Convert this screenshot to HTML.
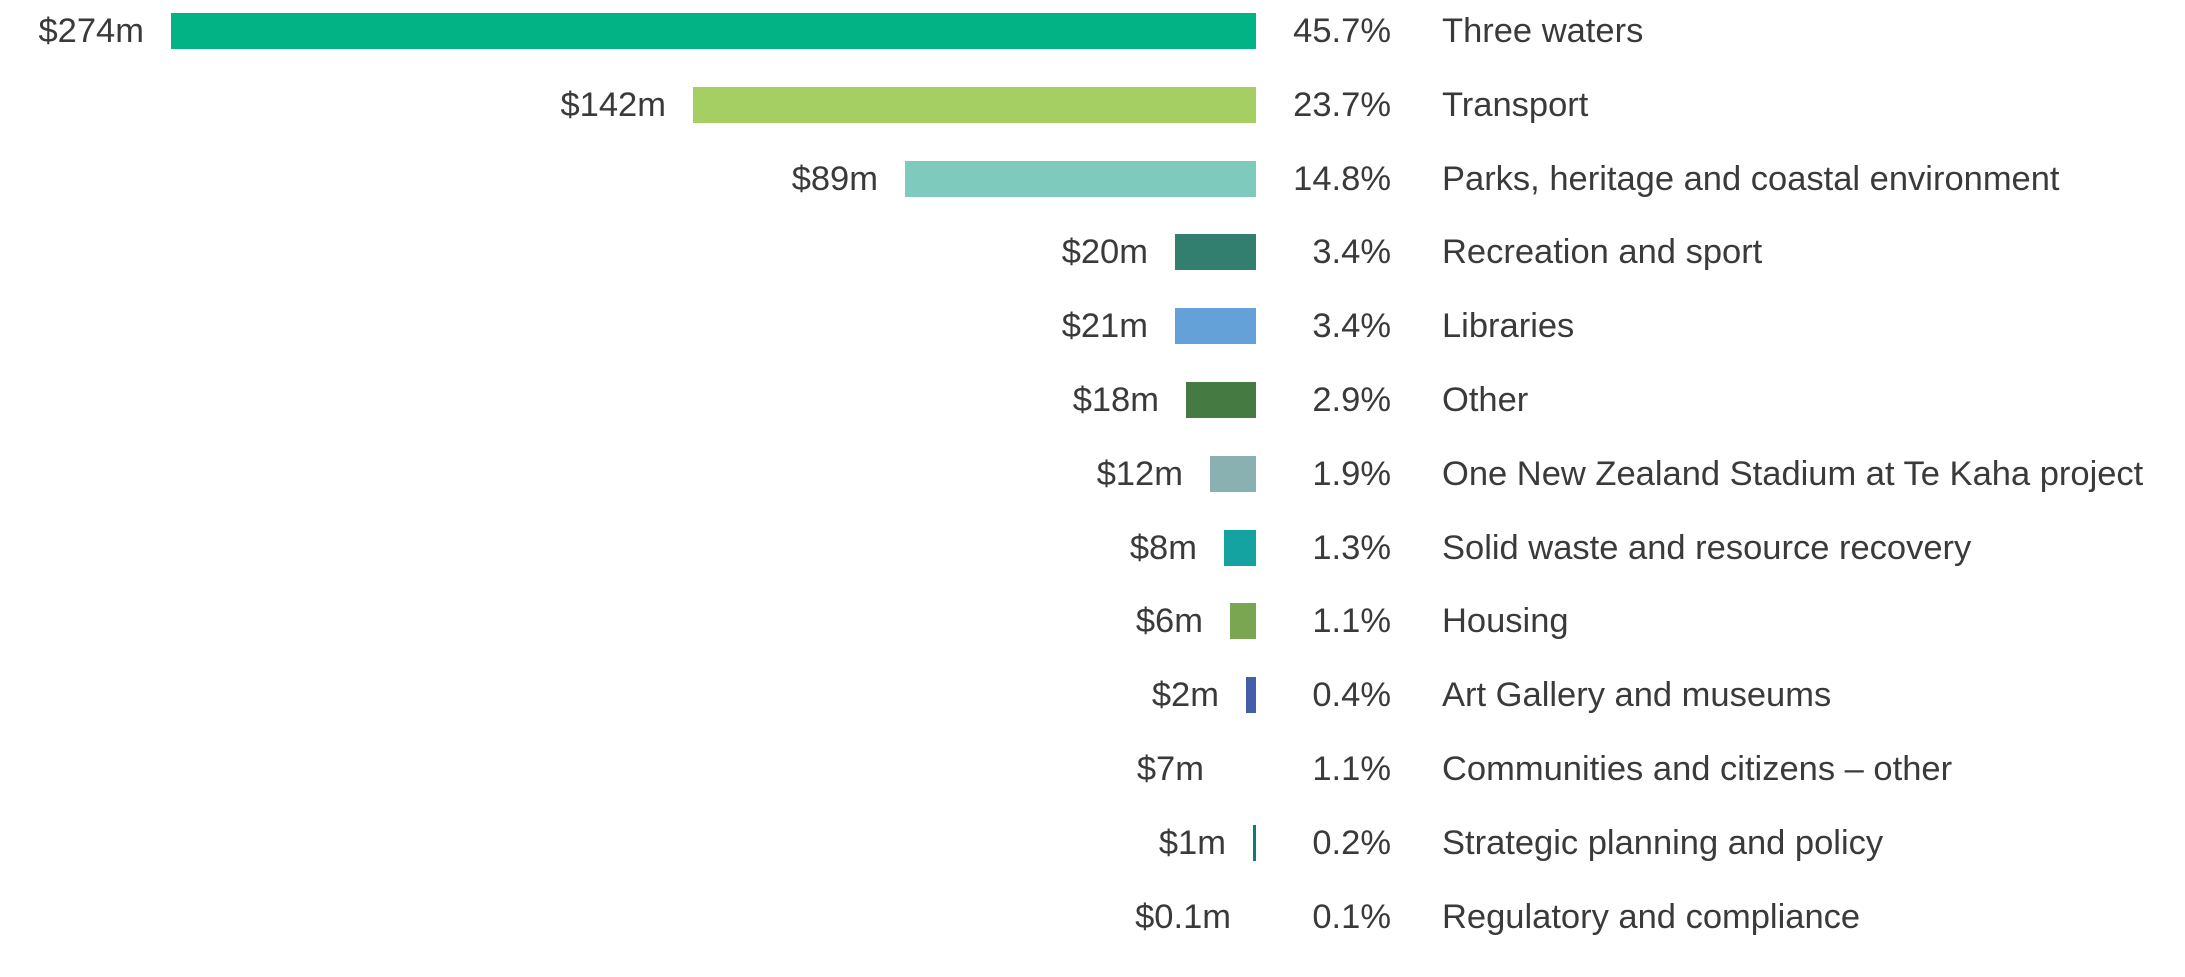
<!DOCTYPE html>
<html><head><style>
body{margin:0;background:#fff;width:2185px;height:977px;overflow:hidden;font-family:"Liberation Sans",sans-serif;color:#3a3a3a}
.bar{position:absolute;height:36px}
.t{position:absolute;font-size:34.5px;line-height:36px;white-space:nowrap}
.d,.p{text-align:right}
</style></head><body>
<div id="c"></div>
<script>
var rows=[
["$274m",171,"#02b386","45.7%","Three waters"],
["$142m",693,"#a5cf62","23.7%","Transport"],
["$89m",905,"#7ecbbd","14.8%","Parks, heritage and coastal environment"],
["$20m",1175,"#327f6f","3.4%","Recreation and sport"],
["$21m",1175,"#64a1d8","3.4%","Libraries"],
["$18m",1186,"#457b42","2.9%","Other"],
["$12m",1210,"#89b1b2","1.9%","One New Zealand Stadium at Te Kaha project"],
["$8m",1224,"#14a3a0","1.3%","Solid waste and resource recovery"],
["$6m",1230,"#7aa651","1.1%","Housing"],
["$2m",1246,"#445fa9","0.4%","Art Gallery and museums"],
["$7m",null,"","1.1%","Communities and citizens \u2013 other"],
["$1m",1253,"#0f7b78","0.2%","Strategic planning and policy"],
["$0.1m",null,"","0.1%","Regulatory and compliance"]];
var h="";
rows.forEach(function(r,i){
 var y=13+i*73.8;
 var L=r[1];
 if(L!==null){h+='<div class="bar" style="left:'+L+'px;top:'+y+'px;width:'+(1256-L)+'px;background:'+r[2]+'"></div>';}
 var end=L!==null?L-27:(i==10?1204:1231);
 h+='<div class="t d" style="right:'+(2185-end)+'px;top:'+y+'px">'+r[0]+'</div>';
 h+='<div class="t p" style="right:'+(2185-1391)+'px;top:'+y+'px">'+r[3]+'</div>';
 h+='<div class="t" style="left:1442px;top:'+y+'px">'+r[4]+'</div>';
});
document.getElementById("c").innerHTML=h;
</script>
</body></html>
